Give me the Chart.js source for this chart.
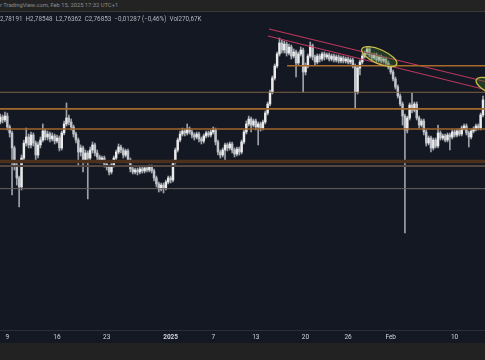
<!DOCTYPE html>
<html>
<head>
<meta charset="utf-8">
<script src="https://cdn.jsdelivr.net/npm/chart.js@4.4.1/dist/chart.umd.min.js"></script>
<style>
  html, body { margin: 0; padding: 0; }
  body { width: 485px; height: 360px; overflow: hidden; position: relative; background: #131823; font-family: Roboto, "Liberation Sans", sans-serif; }
  #topbar { position: absolute; left: 0; top: 0; width: 485px; height: 11px; background: #232323; border-bottom: 1px solid #383838; color: #8d8d8d; font-size: 5.8px; line-height: 11px; white-space: nowrap; z-index: 2; }
  #ohlc { position: absolute; left: 0; top: 15px; color: #b2b5bc; font-size: 6.3px; line-height: 8px; white-space: pre; z-index: 2; }
  #chartBox { position: absolute; left: 0; top: 12px; width: 485px; height: 331px; }
  #footer { position: absolute; left: 0; top: 343px; width: 485px; height: 17px; background: #222222; }
</style>
</head>
<body>
<div id="topbar">r TradingView.com, Feb 15, 2025 17:32 UTC+1</div>
<div id="chartBox"><canvas id="chart"></canvas></div>
<div id="ohlc">2,78191  H2,78548  L2,76362  C2,76853  −0,01287 (−0,46%)  Vol270,67K</div>
<div id="footer"></div>
<script>
// XRP 8h candles, Dec 8 2024 -> Feb 14 2025 (days counted from Nov 30)
const firstDay = 8;
const candlesPerDay = 3;
const firstOpen = 2.683;

const closes = [
  2.725, 2.700, 2.733, 2.642, 2.592, 2.467, 2.325, 2.217, 2.142, 2.383,
  2.508, 2.558, 2.492, 2.575, 2.508, 2.408, 2.492, 2.533, 2.608, 2.558,
  2.583, 2.542, 2.567, 2.525, 2.550, 2.467, 2.592, 2.667, 2.717, 2.683,
  2.642, 2.583, 2.533, 2.433, 2.467, 2.367, 2.425, 2.383, 2.450, 2.492,
  2.425, 2.392, 2.367, 2.383, 2.333, 2.308, 2.267, 2.325, 2.383, 2.433,
  2.475, 2.450, 2.408, 2.442, 2.367, 2.292, 2.267, 2.283, 2.267, 2.292,
  2.275, 2.300, 2.283, 2.308, 2.275, 2.217, 2.167, 2.125, 2.158, 2.133,
  2.183, 2.217, 2.200, 2.350, 2.450, 2.533, 2.583, 2.608, 2.592, 2.625,
  2.600, 2.575, 2.558, 2.583, 2.542, 2.525, 2.567, 2.592, 2.575, 2.600,
  2.617, 2.517, 2.433, 2.408, 2.450, 2.492, 2.467, 2.500, 2.450, 2.417,
  2.458, 2.433, 2.517, 2.600, 2.667, 2.708, 2.658, 2.692, 2.642, 2.667,
  2.633, 2.683, 2.758, 2.833, 2.933, 3.050, 3.150, 3.250, 3.342, 3.283,
  3.333, 3.258, 3.308, 3.233, 3.267, 3.175, 3.250, 3.283, 3.100, 3.150,
  3.233, 3.317, 3.225, 3.183, 3.233, 3.208, 3.250, 3.225, 3.242, 3.208,
  3.233, 3.200, 3.225, 3.192, 3.217, 3.192, 3.208, 3.183, 3.200, 3.150,
  2.933, 3.133, 3.183, 3.233, 3.258, 3.292, 3.242, 3.217, 3.242, 3.200,
  3.225, 3.192, 3.208, 3.175, 3.142, 3.100, 3.042, 2.975, 2.900, 2.833,
  2.733, 2.617, 2.717, 2.825, 2.783, 2.833, 2.717, 2.658, 2.692, 2.600,
  2.508, 2.550, 2.467, 2.533, 2.483, 2.592, 2.550, 2.567, 2.533, 2.575,
  2.558, 2.600, 2.575, 2.608, 2.583, 2.633, 2.650, 2.592, 2.558, 2.608,
  2.625, 2.650, 2.633, 2.742, 2.867
];

const highs = [
  2.750, 2.742, 2.767, 2.758, 2.658, 2.608, 2.483, 2.342, 2.233, 2.408,
  2.533, 2.633, 2.583, 2.600, 2.592, 2.525, 2.517, 2.558, 2.667, 2.625,
  2.608, 2.600, 2.592, 2.583, 2.575, 2.567, 2.608, 2.692, 2.842, 2.742,
  2.708, 2.658, 2.600, 2.550, 2.492, 2.483, 2.450, 2.442, 2.475, 2.517,
  2.508, 2.450, 2.408, 2.400, 2.400, 2.358, 2.325, 2.342, 2.400, 2.450,
  2.500, 2.492, 2.467, 2.458, 2.458, 2.383, 2.308, 2.300, 2.300, 2.308,
  2.308, 2.317, 2.317, 2.325, 2.325, 2.292, 2.233, 2.183, 2.175, 2.175,
  2.200, 2.233, 2.233, 2.367, 2.467, 2.550, 2.608, 2.633, 2.625, 2.667,
  2.642, 2.617, 2.592, 2.600, 2.600, 2.558, 2.583, 2.608, 2.608, 2.617,
  2.642, 2.633, 2.533, 2.450, 2.467, 2.508, 2.508, 2.517, 2.517, 2.467,
  2.475, 2.475, 2.533, 2.617, 2.692, 2.733, 2.725, 2.708, 2.708, 2.683,
  2.683, 2.700, 2.775, 2.850, 2.950, 3.067, 3.167, 3.267, 3.383, 3.367,
  3.358, 3.350, 3.333, 3.325, 3.292, 3.283, 3.267, 3.308, 3.300, 3.175,
  3.250, 3.350, 3.333, 3.242, 3.250, 3.250, 3.267, 3.267, 3.258, 3.258,
  3.250, 3.250, 3.242, 3.242, 3.233, 3.233, 3.225, 3.225, 3.217, 3.217,
  3.167, 3.150, 3.200, 3.250, 3.275, 3.308, 3.308, 3.258, 3.258, 3.258,
  3.242, 3.242, 3.225, 3.225, 3.192, 3.158, 3.117, 3.058, 2.992, 2.917,
  2.850, 2.750, 2.733, 2.842, 2.925, 2.850, 2.850, 2.733, 2.708, 2.708,
  2.617, 2.567, 2.567, 2.550, 2.550, 2.658, 2.608, 2.583, 2.583, 2.592,
  2.592, 2.617, 2.617, 2.625, 2.625, 2.650, 2.667, 2.667, 2.608, 2.625,
  2.642, 2.667, 2.667, 2.758, 2.900
];

const lows = [
  2.667, 2.675, 2.683, 2.617, 2.558, 2.075, 2.283, 2.158, 1.975, 2.117,
  2.358, 2.483, 2.467, 2.467, 2.483, 2.367, 2.383, 2.467, 2.517, 2.533,
  2.533, 2.517, 2.525, 2.500, 2.508, 2.442, 2.450, 2.575, 2.650, 2.658,
  2.617, 2.558, 2.508, 2.325, 2.400, 2.267, 2.342, 2.042, 2.358, 2.425,
  2.400, 2.367, 2.342, 2.342, 2.308, 2.283, 2.242, 2.250, 2.308, 2.367,
  2.417, 2.425, 2.383, 2.392, 2.342, 2.267, 2.250, 2.250, 2.242, 2.250,
  2.258, 2.258, 2.267, 2.267, 2.258, 2.192, 2.142, 2.100, 2.108, 2.092,
  2.117, 2.167, 2.175, 2.183, 2.333, 2.433, 2.517, 2.567, 2.567, 2.575,
  2.583, 2.550, 2.533, 2.542, 2.517, 2.500, 2.508, 2.550, 2.558, 2.558,
  2.583, 2.492, 2.408, 2.383, 2.392, 2.350, 2.442, 2.450, 2.425, 2.392,
  2.400, 2.408, 2.417, 2.500, 2.583, 2.650, 2.600, 2.642, 2.617, 2.492,
  2.608, 2.617, 2.667, 2.742, 2.817, 2.917, 3.033, 3.133, 3.233, 3.258,
  3.258, 3.233, 3.242, 3.208, 3.217, 3.058, 3.158, 3.233, 2.933, 3.075,
  3.133, 3.217, 3.200, 3.158, 3.167, 3.183, 3.192, 3.200, 3.208, 3.192,
  3.192, 3.183, 3.183, 3.175, 3.175, 3.175, 3.175, 3.167, 3.167, 3.133,
  2.800, 2.917, 3.075, 3.167, 3.217, 3.242, 3.225, 3.200, 3.200, 3.183,
  3.183, 3.175, 3.175, 3.158, 3.125, 3.083, 3.025, 2.958, 2.883, 2.817,
  2.658, 1.758, 2.592, 2.700, 2.758, 2.767, 2.700, 2.633, 2.642, 2.575,
  2.483, 2.492, 2.433, 2.450, 2.467, 2.467, 2.533, 2.533, 2.517, 2.517,
  2.450, 2.542, 2.558, 2.558, 2.567, 2.567, 2.617, 2.575, 2.475, 2.542,
  2.592, 2.608, 2.617, 2.617, 2.725
];

const tickDays = [9, 16, 23, 32, 38, 44, 51, 57, 63, 72];
const tickLabels = ["9", "16", "23", "2025", "7", "13", "20", "26", "Feb", "10"];

// horizontal levels (price) and where they start (day, null = from left edge)
const levelPrices = [3.152, 2.931, 2.792, 2.625, 2.354, 2.317, 2.128];
const levelStartDays = [48.4, null, null, null, null, null, null];
const trendUpper = [[45.86, 3.458], [76.3, 3.021]];
const trendLower = [[45.72, 3.400], [76.3, 2.954]];
const ellipseCenters = [[61.39, 3.228], [77.5, 2.971]];

const xMin = 7.97, xMax = 76.28;

const levelStyles = [
  { color: "#a8692b", width: 1.6 },
  { color: "#7f6143", width: 1 },
  { color: "#a6682a", width: 1.7 },
  { color: "#a0652b", width: 1.6 },
  { color: "#4a301d", width: 3.5 },
  { color: "#564640", width: 2 },
  { color: "#67605f", width: 1 }
];

const bodies = [], wicks = [], bodyColors = [];
let prev = firstOpen;
closes.forEach((c, i) => {
  const x = firstDay + i / candlesPerDay;
  bodies.push({ x, y: [prev, c] });
  wicks.push({ x, y: [lows[i], highs[i]] });
  bodyColors.push(c >= prev ? "#ebebeb" : "#c0c3c9");
  prev = c;
});

const levelSets = levelPrices.map((p, i) => ({
  type: "line",
  data: [{ x: levelStartDays[i] ?? xMin, y: p }, { x: xMax, y: p }],
  borderColor: levelStyles[i].color,
  borderWidth: levelStyles[i].width,
  pointRadius: 0,
  order: 0
}));

const trendSets = [trendUpper, trendLower].map(t => ({
  type: "line",
  data: t.map(([x, y]) => ({ x, y })),
  borderColor: "#c2375f",
  borderWidth: 1.1,
  pointRadius: 0,
  order: 0
}));

const ellipsePlugin = {
  id: "ellipses",
  afterDatasetsDraw(chart) {
    const { ctx, scales: { x, y } } = chart;
    ctx.save();
    ellipseCenters.forEach(([d, p]) => {
      ctx.beginPath();
      ctx.ellipse(x.getPixelForValue(d), y.getPixelForValue(p), 19, 7, 24 * Math.PI / 180, 0, Math.PI * 2);
      ctx.fillStyle = "rgba(70, 120, 40, 0.35)";
      ctx.fill();
      ctx.strokeStyle = "#c9bd4c";
      ctx.lineWidth = 1.3;
      ctx.stroke();
    });
    ctx.restore();
  }
};

new Chart(document.getElementById("chart"), {
  type: "bar",
  data: {
    datasets: [
      { type: "bar", data: bodies, backgroundColor: bodyColors, barThickness: 1.8, grouped: false, minBarLength: 1, order: 1 },
      { type: "bar", data: wicks, backgroundColor: "#9da1a8", barThickness: 1, grouped: false, order: 2 },
      ...levelSets,
      ...trendSets
    ]
  },
  options: {
    responsive: true,
    maintainAspectRatio: false,
    animation: false,
    layout: { padding: 0 },
    plugins: { legend: { display: false }, tooltip: { enabled: false } },
    scales: {
      x: {
        type: "linear",
        min: xMin,
        max: xMax,
        offset: false,
        grid: { display: false, drawTicks: false },
        border: { display: true, color: "#2a2e39", width: 1 },
        afterBuildTicks: (scale) => { scale.ticks = tickDays.map(v => ({ value: v })); },
        afterFit: (scale) => { scale.height = 13; },
        ticks: {
          autoSkip: false,
          maxRotation: 0,
          padding: 3,
          color: "#d1d4dc",
          font: (c) => ({ family: "Roboto", size: 6.5, weight: c.tick && c.tick.value === 32 ? "bold" : "normal" }),
          callback: (v) => tickLabels[tickDays.indexOf(v)] ?? ""
        }
      },
      y: { display: false, min: 0.95, max: 3.60 }
    }
  },
  plugins: [ellipsePlugin]
});
</script>
</body>
</html>
